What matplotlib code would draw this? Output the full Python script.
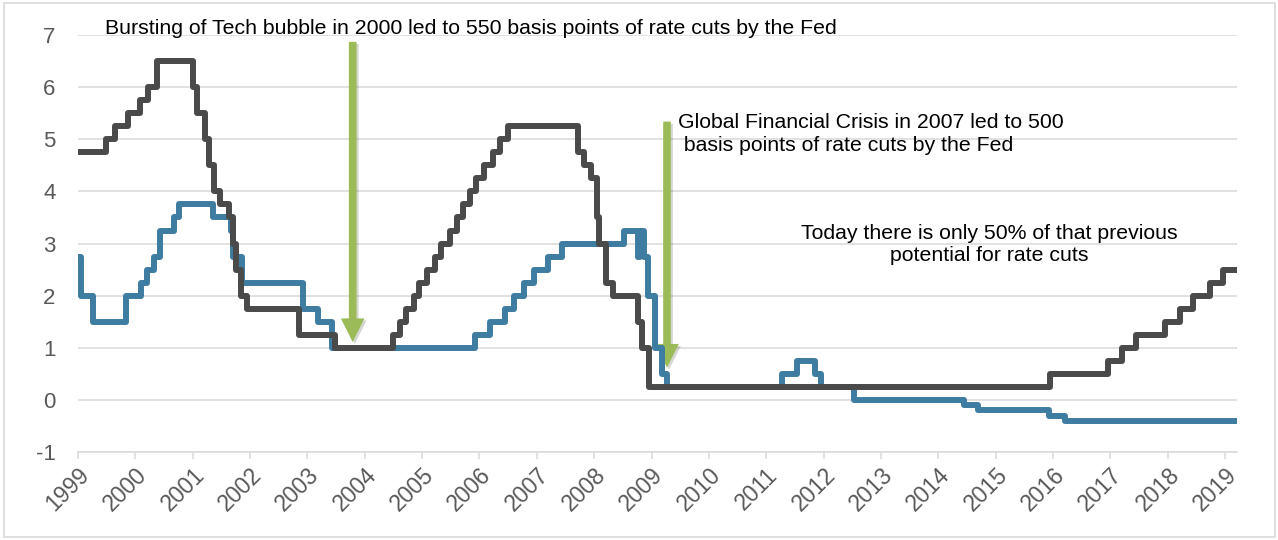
import matplotlib
matplotlib.use("Agg")
import matplotlib.pyplot as plt
import matplotlib.patheffects as pe
from matplotlib.patches import Rectangle
import pandas as pd

plt.rcParams['font.family'] = ['Liberation Sans', 'DejaVu Sans']
plt.rcParams['axes.unicode_minus'] = False

# Fed funds target (upper bound), change dates and levels
fed_dates = ['1999-01-01', '1999-06-30', '1999-08-24', '1999-11-16', '2000-02-02',
             '2000-03-21', '2000-05-16', '2001-01-03', '2001-01-31', '2001-03-20',
             '2001-04-18', '2001-05-15', '2001-06-27', '2001-08-21', '2001-09-17',
             '2001-10-02', '2001-11-06', '2001-12-11', '2002-11-06', '2003-06-25',
             '2004-06-30', '2004-08-10', '2004-09-21', '2004-11-10', '2004-12-14',
             '2005-02-02', '2005-03-22', '2005-05-03', '2005-06-30', '2005-08-09',
             '2005-09-20', '2005-11-01', '2005-12-13', '2006-01-31', '2006-03-28',
             '2006-05-10', '2006-06-29', '2007-09-18', '2007-10-31', '2007-12-11',
             '2008-01-22', '2008-01-30', '2008-03-18', '2008-04-30', '2008-10-08',
             '2008-10-29', '2008-12-16', '2015-12-16', '2016-12-14', '2017-03-15',
             '2017-06-14', '2017-12-13', '2018-03-21', '2018-06-13', '2018-09-26',
             '2018-12-19', '2019-03-15']
fed_rates = [4.75, 5.00, 5.25, 5.50, 5.75,
             6.00, 6.50, 6.00, 5.50, 5.00,
             4.50, 4.00, 3.75, 3.50, 3.00,
             2.50, 2.00, 1.75, 1.25, 1.00,
             1.25, 1.50, 1.75, 2.00, 2.25,
             2.50, 2.75, 3.00, 3.25, 3.50,
             3.75, 4.00, 4.25, 4.50, 4.75,
             5.00, 5.25, 4.75, 4.50, 4.25,
             3.50, 3.00, 2.25, 2.00, 1.50,
             1.00, 0.25, 0.50, 0.75, 1.00,
             1.25, 1.50, 1.75, 2.00, 2.25,
             2.50, 2.50]

# ECB deposit facility rate
ecb_dates = ['1999-01-01', '1999-01-22', '1999-04-09', '1999-11-05', '2000-02-04',
             '2000-03-17', '2000-04-28', '2000-06-09', '2000-09-01', '2000-10-06',
             '2001-05-11', '2001-08-31', '2001-09-18', '2001-11-09', '2002-12-06',
             '2003-03-07', '2003-06-06', '2005-12-06', '2006-03-08', '2006-06-15',
             '2006-08-09', '2006-10-11', '2006-12-13', '2007-03-14', '2007-06-13',
             '2008-07-09', '2008-10-08', '2008-10-20', '2008-11-12', '2008-12-10',
             '2009-01-21', '2009-03-11', '2009-04-08', '2011-04-13', '2011-07-13',
             '2011-11-09', '2011-12-14', '2012-07-11', '2014-06-11', '2014-09-10',
             '2015-12-09', '2016-03-16', '2019-03-15']
ecb_rates = [2.75, 2.00, 1.50, 2.00, 2.25,
             2.50, 2.75, 3.25, 3.50, 3.75,
             3.50, 3.25, 2.75, 2.25, 1.75,
             1.50, 1.00, 1.25, 1.50, 1.75,
             2.00, 2.25, 2.50, 2.75, 3.00,
             3.25, 2.75, 3.25, 2.75, 2.00,
             1.00, 0.50, 0.25, 0.50, 0.75,
             0.50, 0.25, 0.00, -0.10, -0.20,
             -0.30, -0.40, -0.40]

years = list(range(1999, 2020))
y_ticks = list(range(-1, 8))


def to_year(dates):
    d = pd.to_datetime(pd.Series(dates))
    return (d.dt.year + (d.dt.dayofyear - 1) / 365.25).values


fig = plt.figure(figsize=(12.78, 5.4), dpi=100)
ax = fig.add_axes([0.061, 0.163, 0.907, 0.772])

ax.plot(to_year(ecb_dates), ecb_rates, drawstyle='steps-post', color='#3f7ca1',
        lw=4.3, solid_joinstyle='round', solid_capstyle='round', zorder=3)
ax.plot(to_year(fed_dates), fed_rates, drawstyle='steps-post', color='#4a4a4a',
        lw=4.3, solid_joinstyle='round', solid_capstyle='round', zorder=4)

# green arrows
green = '#9bbb59'
arrows = [((2003.79, 6.87), (2003.79, 1.11)), ((2009.27, 5.34), (2009.27, 0.62))]
for start, tip in arrows:
    ax.annotate('', xy=tip, xytext=start, zorder=2,
                arrowprops=dict(arrowstyle='simple,head_length=17,head_width=17,tail_width=5.5',
                                mutation_scale=1, fc=green, ec='none', shrinkA=0, shrinkB=0,
                                path_effects=[pe.SimplePatchShadow(offset=(1.5, -1.5), alpha=0.2),
                                              pe.Normal()]))

ax.text(1999.47, 7.12, 'Bursting of Tech bubble in 2000 led to 550 basis points of rate cuts by the Fed',
        fontsize=15.3, va='center', ha='left', color='black', zorder=5)
ax.text(2009.47, 5.1, 'Global Financial Crisis in 2007 led to 500\n basis points of rate cuts by the Fed',
        fontsize=15.3, va='center', ha='left', color='black', zorder=5, linespacing=1.25)
ax.text(2014.89, 2.98, 'Today there is only 50% of that previous\npotential for rate cuts',
        fontsize=15.3, va='center', ha='center', multialignment='center', color='black',
        zorder=5, linespacing=1.25)

ax.set_xlim(1999, 2019.21)
ax.set_ylim(-1, 7)
ax.set_xticks(years)
ax.set_xticklabels([str(y) for y in years], rotation=45, ha='right', rotation_mode='anchor')
ax.set_yticks(y_ticks)
ax.grid(axis='y', color='#d9d9d9', lw=1.1, zorder=0)
ax.set_axisbelow(True)
for s in ['top', 'right', 'left']:
    ax.spines[s].set_visible(False)
ax.spines['bottom'].set_color('#d9d9d9')
ax.spines['bottom'].set_linewidth(1.1)
ax.tick_params(axis='x', length=5, width=1.1, color='#d9d9d9', labelsize=16.5,
               labelcolor='#595959', pad=3)
ax.tick_params(axis='y', length=0, labelsize=16, labelcolor='#595959', pad=16)

fig.patches.append(Rectangle((0.003, 0.005), 0.995, 0.99, transform=fig.transFigure,
                             fill=False, ec='#d9d9d9', lw=1.2))

fig.savefig('out.png', dpi=100)
